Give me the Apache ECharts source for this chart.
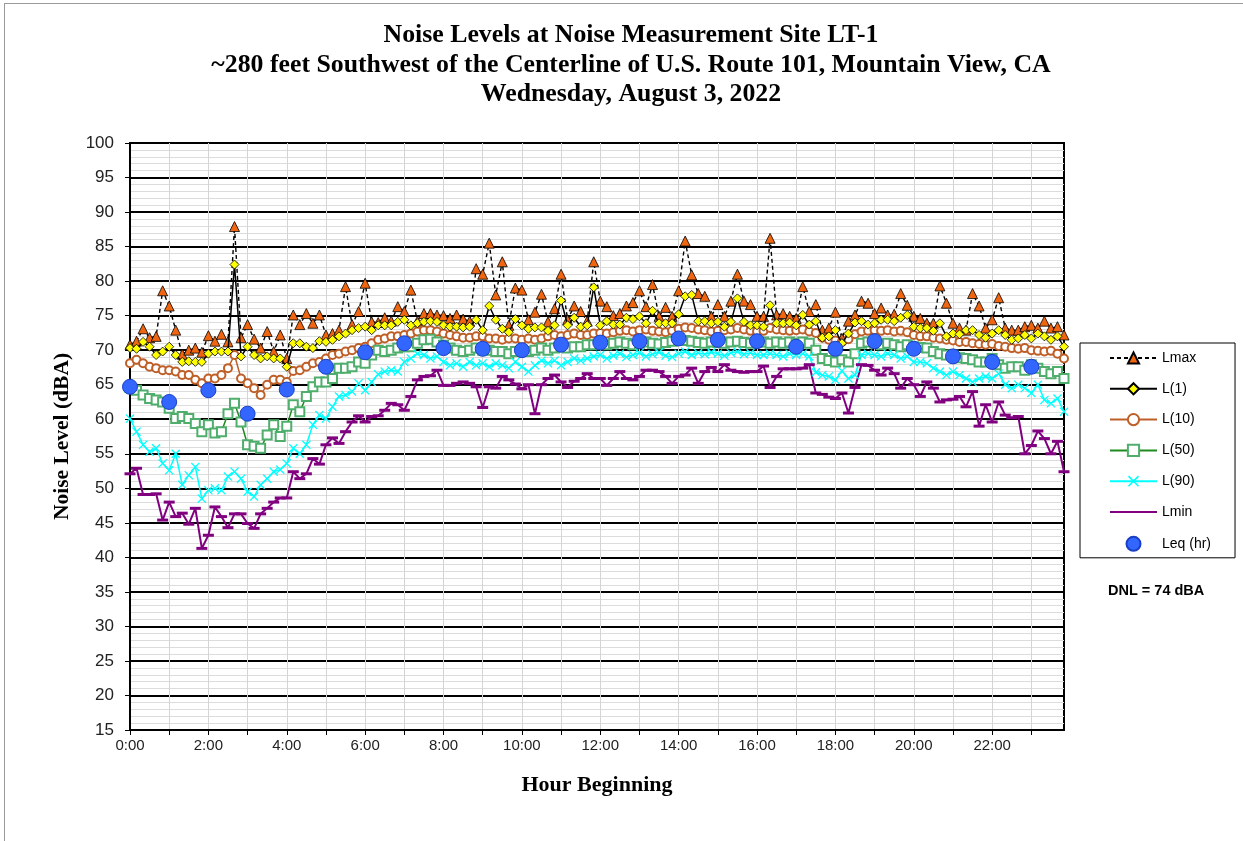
<!DOCTYPE html>
<html>
<head>
<meta charset="utf-8">
<script src="https://cdn.jsdelivr.net/npm/echarts@6/dist/echarts.min.js"></script>
<style>
html,body{margin:0;padding:0;background:#fff;}
#frameTop{position:absolute;left:4px;top:3px;width:1239px;height:1px;background:#9a9a9a;}
#frameLeft{position:absolute;left:4px;top:3px;width:1px;height:838px;background:#9a9a9a;}
#chart{position:absolute;left:0;top:0;width:1243px;height:841px;}
</style>
</head>
<body>
<div id="chart"></div>
<div id="frameTop"></div>
<div id="frameLeft"></div>
<script>
// ---- categories: 10-minute intervals over the day ----
const times = [];
for (let h = 0; h < 24; h++) for (let m = 0; m < 60; m += 10) times.push(h + ':' + (m < 10 ? '0' + m : m));

// ---- series values (dBA), 144 ten-minute samples each ----
const lmax = [
70.8,71.3,73.1,71.8,72.0,78.6,76.4,72.9,69.4,70.0,70.3,69.7,72.1,71.3,72.3,71.2,87.9,71.8,73.7,71.6,70.3,72.7,69.8,72.2,68.8,
75.1,73.7,75.3,73.9,75.1,72.2,72.4,72.9,79.2,73.7,75.6,79.7,74.1,74.0,74.7,74.2,76.3,75.6,78.7,74.2,75.3,75.3,75.1,75.0,
74.6,75.1,74.5,74.2,81.8,81.0,85.5,78.0,82.8,73.6,79.0,78.7,74.4,75.5,78.1,74.1,76.0,81.0,74.4,76.4,75.6,74.2,82.8,77.1,76.3,
75.0,75.3,76.4,76.9,78.6,76.3,79.5,74.9,76.2,74.9,78.6,85.8,80.9,78.2,77.8,74.9,76.6,74.9,77.1,81.0,77.1,76.6,74.9,74.9,
86.2,75.1,75.3,74.9,74.6,79.2,75.6,76.6,72.9,73.2,75.5,71.7,74.2,75.1,77.1,76.8,75.3,76.1,75.1,75.2,78.2,76.5,74.9,74.6,
73.9,73.9,79.3,76.8,73.9,73.2,72.9,78.2,76.4,73.2,74.4,77.6,73.2,72.9,72.9,73.4,73.6,73.2,74.2,73.2,73.4,72.2
];
const l1 = [
70.3,70.2,71.2,70.5,69.3,69.8,70.5,69.3,68.3,68.4,68.3,68.3,69.5,69.8,69.8,69.8,82.4,69.1,70.5,69.3,68.8,69.1,68.8,68.8,67.6,
71.0,71.0,70.5,70.3,71.3,71.2,71.5,72.0,72.4,72.9,73.2,73.4,72.9,73.6,73.6,73.6,74.1,74.4,73.6,73.9,74.1,74.2,74.1,73.6,
73.4,73.4,73.3,73.4,74.4,72.9,76.4,74.4,73.1,72.6,74.5,73.6,73.1,73.3,73.3,72.8,73.6,77.2,73.6,74.7,73.4,73.6,79.1,73.6,74.2,
73.7,73.7,74.7,74.5,74.9,73.9,75.7,73.9,73.9,73.9,75.2,77.8,78.0,74.2,74.2,73.9,74.1,73.4,74.1,77.5,74.1,73.6,73.6,73.4,
76.5,73.9,73.9,74.0,73.6,75.1,73.7,74.2,71.8,72.0,72.9,71.0,72.4,74.0,74.2,73.7,73.9,74.4,74.4,74.2,74.7,75.1,73.4,73.2,
73.2,72.8,73.9,72.0,72.4,72.3,72.9,72.9,72.2,71.8,72.4,72.9,72.2,71.5,71.7,72.2,71.7,72.4,72.0,71.5,72.0,70.5
];
const l10 = [
68.1,68.6,68.1,67.6,67.4,67.1,67.1,66.9,66.4,66.4,65.7,65.2,65.9,65.9,66.4,67.4,69.3,65.9,65.2,64.5,63.5,65.0,65.7,65.7,65.4,
67.0,67.1,67.6,68.1,68.3,68.8,69.3,69.5,69.8,70.0,70.3,70.5,71.0,71.5,71.7,72.0,72.0,72.2,72.4,72.7,72.9,72.9,72.7,72.4,
72.2,72.0,71.8,71.8,72.0,72.0,71.7,71.7,71.5,71.7,71.7,71.5,71.7,71.5,71.7,72.0,72.2,72.0,72.2,72.4,72.2,72.2,72.4,72.5,72.4,
72.6,72.8,72.9,72.7,72.9,73.0,72.8,72.7,72.6,72.8,73.1,73.3,73.2,73.0,72.9,72.7,72.8,72.9,73.0,73.2,73.0,72.8,72.7,72.8,
73.2,73.0,72.9,72.8,72.9,73.0,72.7,72.5,71.8,71.5,71.4,71.2,71.6,72.3,72.7,72.8,72.9,72.8,72.9,72.7,72.8,72.6,72.2,72.0,
72.0,71.8,71.7,71.5,71.4,71.2,71.2,71.0,70.9,70.8,70.9,70.6,70.5,70.3,70.2,70.3,70.0,69.9,69.8,69.9,69.5,68.8
];
const l50 = [
64.6,64.2,63.5,63.0,62.8,62.5,61.6,60.1,60.4,60.1,59.4,58.2,59.2,58.0,58.2,60.8,62.3,59.6,56.3,56.1,55.8,57.7,59.2,57.5,59.0,
62.1,61.1,63.3,64.7,65.4,65.4,65.9,67.4,67.4,67.6,68.3,68.1,69.3,70.0,69.8,70.0,70.3,70.5,70.5,71.0,71.5,71.6,71.2,70.7,
70.3,70.0,69.8,70.0,70.3,70.0,70.0,69.8,69.8,69.5,69.8,70.0,69.8,70.0,70.3,70.0,70.3,70.5,70.3,70.5,70.5,70.8,70.8,71.0,70.8,
71.0,71.2,71.0,70.8,71.0,71.2,71.0,70.9,71.1,71.3,71.5,71.4,71.3,71.1,71.0,71.2,71.1,71.0,71.2,71.3,71.1,71.0,71.1,71.2,
71.0,71.2,71.0,71.2,71.0,71.2,71.0,70.0,68.8,68.5,68.3,68.6,68.3,69.5,71.0,71.2,71.0,70.8,71.0,70.8,70.5,70.8,70.5,70.4,
70.3,69.8,69.5,69.3,69.3,68.9,68.8,68.6,68.3,68.3,68.8,67.9,67.4,67.6,67.6,67.1,67.9,67.4,66.9,66.6,66.9,65.9
];
const l90 = [
60.1,58.2,56.3,55.3,55.8,53.6,52.6,55.0,50.5,51.9,53.1,48.5,49.7,50.0,49.7,51.7,52.4,51.4,49.5,48.8,50.5,51.4,52.4,52.7,53.6,
55.8,55.0,56.3,59.2,60.6,60.1,61.8,63.3,63.5,64.0,65.2,64.2,65.4,66.5,66.9,67.1,66.9,68.3,68.8,69.5,69.3,68.8,69.1,68.3,
67.8,68.1,67.6,68.3,67.8,68.1,67.6,68.1,67.8,67.4,68.3,67.6,66.9,67.8,68.5,68.1,68.5,67.8,68.3,68.8,68.5,68.8,69.1,69.3,68.8,
69.2,69.5,69.0,69.3,69.6,69.1,69.4,69.7,69.2,69.0,69.5,69.8,69.3,69.6,69.4,69.7,69.5,69.2,69.6,69.8,69.4,69.6,69.3,69.3,
69.5,69.3,69.1,69.5,69.3,69.5,69.1,66.8,66.4,66.2,65.7,67.0,65.9,66.4,69.3,69.5,69.3,69.1,69.5,69.3,68.8,69.1,68.3,68.3,
68.1,67.4,66.9,66.4,66.9,66.4,65.9,65.4,65.9,66.2,65.9,66.6,65.0,64.5,65.0,64.5,63.8,65.0,62.8,62.3,63.0,61.1
];
const lmin = [
52.1,52.9,49.1,49.1,49.2,45.4,48.0,45.9,46.4,44.8,47.1,41.3,43.2,47.3,45.9,44.3,46.3,46.3,44.9,44.2,46.3,47.1,48.0,48.6,48.6,
52.4,51.4,52.1,54.3,53.5,56.3,57.3,56.5,58.2,59.6,60.5,59.6,60.4,60.5,61.3,62.3,62.1,61.3,63.3,65.7,66.2,66.3,67.1,64.9,
64.9,65.2,65.4,65.2,64.7,61.7,64.7,64.5,66.2,65.7,65.1,64.4,65.0,60.8,65.0,65.9,66.4,65.4,64.6,65.5,65.9,66.6,65.9,65.9,64.9,
65.9,66.9,65.9,65.7,66.2,67.1,67.1,66.9,66.2,65.2,66.2,66.4,67.4,65.2,66.9,67.5,66.9,67.9,67.1,66.9,66.8,66.9,66.9,67.7,
64.6,66.2,67.3,67.3,67.3,67.4,67.9,63.8,63.6,63.2,63.0,63.8,60.9,64.6,67.9,67.8,67.1,66.4,67.4,66.6,64.5,65.9,65.0,63.3,
65.4,64.5,62.5,62.8,62.9,63.3,61.8,64.0,59.0,62.1,59.6,62.5,60.6,60.2,60.4,55.0,56.2,58.3,57.2,55.0,56.8,52.4
];
// hourly Leq, one value per hour beginning 0:00 .. 23:00
const leqHours = [0,1,2,3,4,5,6,7,8,9,10,11,12,13,14,15,16,17,18,19,20,21,22,23];
const leq = [64.7,62.5,64.2,60.8,64.3,67.6,69.7,71.0,70.3,70.2,70.0,70.8,71.1,71.3,71.7,71.5,71.3,70.5,70.2,71.3,70.2,69.1,68.3,67.6];

const yTicks = {min: 15, max: 100, step: 5};
const seriesNames = ['Lmax','L(1)','L(10)','L(50)','L(90)','Lmin','Leq (hr)'];
const dnlText = 'DNL = 74 dBA';

const chart = echarts.init(document.getElementById('chart'), null, {renderer: 'canvas'});
const xMark = 'path://M1,0 L5,4 L9,0 L10,1 L6,5 L10,9 L9,10 L5,6 L1,10 L0,9 L4,5 L0,1 Z';
const serif = '"Liberation Serif","Times New Roman",serif';
const sans = '"Liberation Sans",Arial,sans-serif';

chart.setOption({
  animation: false,
  backgroundColor: '#fff',
  title: {
    text: 'Noise Levels at Noise Measurement Site LT-1\n~280 feet Southwest of the Centerline of U.S. Route 101, Mountain View, CA\nWednesday, August 3, 2022',
    left: 626, textAlign: 'center', top: 16,
    textStyle: {fontFamily: serif, fontWeight: 'bold', fontSize: 25.8, lineHeight: 29.5, color: '#000'}
  },
  grid: {left: 130, right: 179, top: 143, bottom: 111, show: true, borderColor: '#000', borderWidth: 2, backgroundColor: 'transparent'},
  legend: {
    orient: 'vertical', left: 1080, top: 343,
    data: seriesNames.map(n => n === 'Lmin' ? {name: n, itemStyle: {opacity: 0}} : n),
    itemWidth: 47, itemHeight: 14, itemGap: 16.8,
    padding: [8, 24, 6, 29],
    borderColor: '#000', borderWidth: 1,
    textStyle: {fontFamily: sans, fontSize: 14, color: '#000'}
  },
  graphic: [{
    type: 'text', left: 1108, top: 583,
    style: {text: dnlText, font: 'bold 14.5px ' + sans, fill: '#000'}
  }],
  xAxis: {
    type: 'category', data: times, boundaryGap: false,
    name: 'Hour Beginning', nameLocation: 'middle', nameGap: 44,
    nameTextStyle: {fontFamily: serif, fontWeight: 'bold', fontSize: 22, color: '#000'},
    axisLine: {lineStyle: {color: '#000', width: 2}},
    axisTick: {interval: (i) => i % 6 === 0, length: 5, lineStyle: {color: '#000', width: 1}},
    axisLabel: {interval: (i) => i % 12 === 0, fontFamily: sans, fontSize: 15, color: '#222', margin: 8},
    splitLine: {show: true, interval: (i) => i % 6 === 0, lineStyle: {color: '#d4d4d4', width: 1}}
  },
  yAxis: {
    type: 'value', min: yTicks.min, max: yTicks.max, interval: yTicks.step,
    name: 'Noise Level (dBA)', nameLocation: 'middle', nameGap: 57,
    nameTextStyle: {fontFamily: serif, fontWeight: 'bold', fontSize: 21.5, color: '#000'},
    axisLine: {show: true, lineStyle: {color: '#000', width: 2}},
    axisTick: {show: true, length: 5, lineStyle: {color: '#000'}},
    axisLabel: {fontFamily: sans, fontSize: 17, color: '#222', margin: 16},
    splitLine: {show: true, lineStyle: {color: '#000', width: 2}},
    minorTick: {show: false, splitNumber: 5},
    minorSplitLine: {show: true, lineStyle: {color: '#dcdcdc', width: 1}}
  },
  series: [
    {name: 'Lmax', type: 'line', data: lmax, symbol: 'triangle', symbolSize: 10, showAllSymbol: true, z: 3,
     lineStyle: {color: '#000', width: 1.4, type: [4, 3]},
     itemStyle: {color: '#f0650f', borderColor: '#000', borderWidth: 0.8}},
    {name: 'L(1)', type: 'line', data: l1, symbol: 'diamond', symbolSize: 9, showAllSymbol: true, z: 4,
     lineStyle: {color: '#000', width: 1.5},
     itemStyle: {color: '#ffff00', borderColor: '#000', borderWidth: 0.8}},
    {name: 'L(10)', type: 'line', data: l10, symbol: 'emptyCircle', symbolSize: 8, showAllSymbol: true, z: 3,
     lineStyle: {color: '#bf5f28', width: 1.5},
     itemStyle: {color: '#bf5f28', borderWidth: 1.2}},
    {name: 'L(50)', type: 'line', data: l50, symbol: 'emptyRect', symbolSize: 9, showAllSymbol: true, z: 3,
     lineStyle: {color: '#1f8a1f', width: 1.5},
     itemStyle: {color: '#4fae6c', borderWidth: 1.2}},
    {name: 'L(90)', type: 'line', data: l90, symbol: xMark, symbolSize: 9, showAllSymbol: true, z: 3,
     lineStyle: {color: '#00ffff', width: 1.5},
     itemStyle: {color: '#00ffff'}},
    {name: 'Lmin', type: 'line', data: lmin, symbol: 'rect', symbolSize: [11, 3], showAllSymbol: true, z: 3,
     lineStyle: {color: '#800080', width: 2},
     itemStyle: {color: '#800080'}},
    {name: 'Leq (hr)', type: 'scatter', data: leqHours.map((h, k) => [h * 6, leq[k]]),
     symbol: 'circle', symbolSize: 15, z: 6,
     itemStyle: {color: '#3366ff', borderColor: '#1a3fc4', borderWidth: 1, opacity: 1}}
  ]
});
</script>
</body>
</html>
